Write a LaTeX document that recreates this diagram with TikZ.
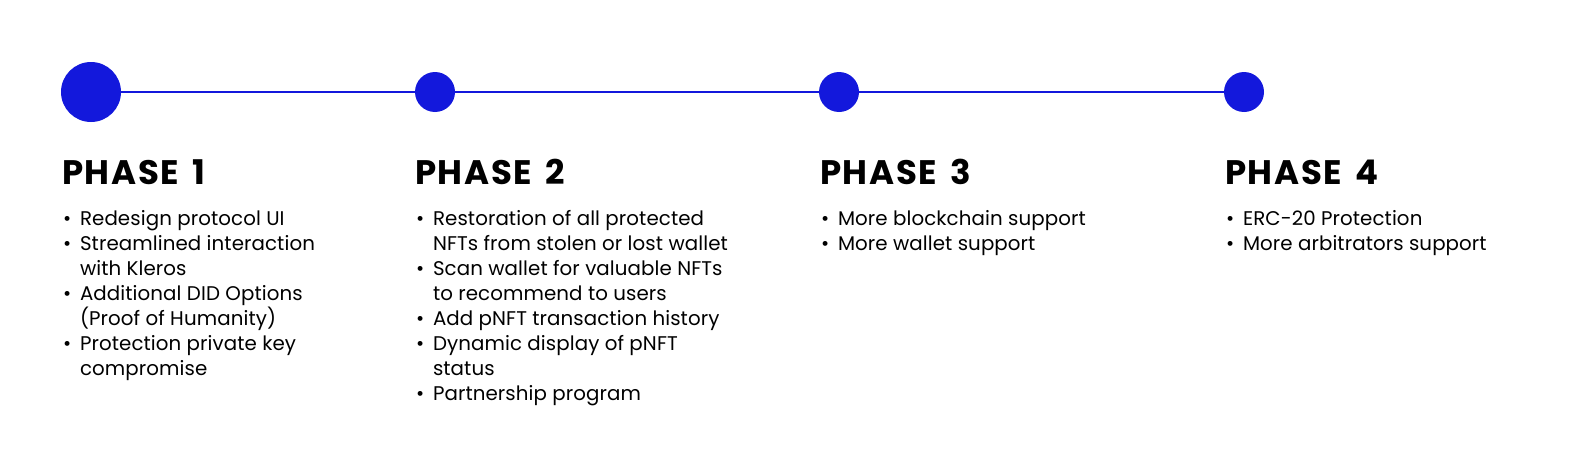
\documentclass[tikz,border=0pt]{standalone}
\usepackage{fontspec}
\setmainfont{Poppins}
\definecolor{phaseblue}{RGB}{19,24,220}
\begin{document}
\begin{tikzpicture}[x=1pt, y=-1pt,
  every node/.style={inner sep=0pt, outer sep=0pt},
  dot/.style={circle, fill=phaseblue},
  title/.style={anchor=base west, font=\fontsize{34}{34}\selectfont\bfseries\addfontfeature{LetterSpace=5}},
  item/.style={anchor=base west, font=\fontsize{19.8}{25}\selectfont\addfontfeature{LetterSpace=0.5}},
  bull/.style={anchor=base west, font=\fontsize{19.8}{25}\selectfont}]

\useasboundingbox (0,0) rectangle (1572,463);

% timeline
\node[dot, minimum size=60] (c1) at (91,92) {};
\node[dot, minimum size=40] (c2) at (435,92) {};
\node[dot, minimum size=40] (c3) at (839,92) {};
\node[dot, minimum size=40] (c4) at (1244,92) {};
\draw[phaseblue, line width=2] (c1) -- (c2) -- (c3) -- (c4);

% PHASE 1
\begin{scope}[xshift=62]
  \node[title] (t1) at (0,184) {PHASE\hspace{0.4em}1};
  \node[bull] at (1,225) {\textbullet};
  \node[item] at (18,225) {Redesign protocol UI};
  \node[bull] at (1,250) {\textbullet};
  \node[item] at (18,250) {Streamlined interaction};
  \node[item] at (18,275) {with Kleros};
  \node[bull] at (1,300) {\textbullet};
  \node[item] at (18,300) {Additional DID Options};
  \node[item] at (18,325) {(Proof of Humanity)};
  \node[bull] at (1,350) {\textbullet};
  \node[item] at (18,350) {Protection private key};
  \node[item] at (18,375) {compromise};
\end{scope}

% PHASE 2
\begin{scope}[xshift=415]
  \node[title] (t2) at (0,184) {PHASE\hspace{0.4em}2};
  \node[bull] at (1,225) {\textbullet};
  \node[item] at (18,225) {Restoration of all protected};
  \node[item] at (18,250) {NFTs from stolen or lost wallet};
  \node[bull] at (1,275) {\textbullet};
  \node[item] at (18,275) {Scan wallet for valuable NFTs};
  \node[item] at (18,300) {to recommend to users};
  \node[bull] at (1,325) {\textbullet};
  \node[item] at (18,325) {Add pNFT transaction history};
  \node[bull] at (1,350) {\textbullet};
  \node[item] at (18,350) {Dynamic display of pNFT};
  \node[item] at (18,375) {status};
  \node[bull] at (1,400) {\textbullet};
  \node[item] at (18,400) {Partnership program};
\end{scope}

% PHASE 3
\begin{scope}[xshift=820]
  \node[title] (t3) at (0,184) {PHASE\hspace{0.4em}3};
  \node[bull] at (1,225) {\textbullet};
  \node[item] at (18,225) {More blockchain support};
  \node[bull] at (1,250) {\textbullet};
  \node[item] at (18,250) {More wallet support};
\end{scope}

% PHASE 4
\begin{scope}[xshift=1225]
  \node[title] (t4) at (0,184) {PHASE\hspace{0.4em}4};
  \node[bull] at (1,225) {\textbullet};
  \node[item] at (18,225) {ERC-20 Protection};
  \node[bull] at (1,250) {\textbullet};
  \node[item] at (18,250) {More arbitrators support};
\end{scope}

\end{tikzpicture}
\end{document}
